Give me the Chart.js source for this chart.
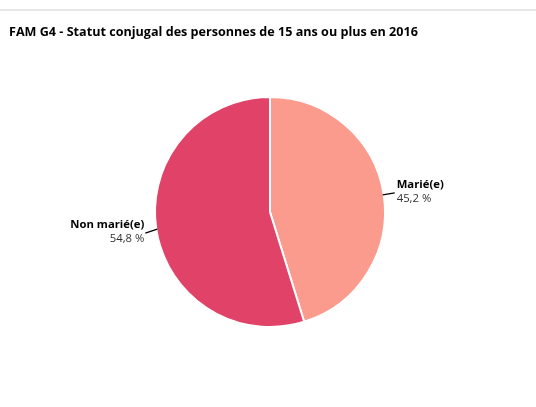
<!DOCTYPE html>
<html><head><meta charset="utf-8">
<script src="https://cdn.jsdelivr.net/npm/chart.js@4/dist/chart.umd.min.js"></script>
<style>
html,body{margin:0;padding:0;background:#fff;}
#wrap{position:relative;width:536px;height:407px;}
#line{position:absolute;left:0;top:9px;width:536px;height:2px;background:#e6e6e6;}
canvas{position:absolute;left:0;top:0;}
</style></head>
<body>
<div id="wrap"><div id="line"></div><canvas id="c" width="536" height="407"></canvas></div>
<script>
const titleText = "FAM G4 - Statut conjugal des personnes de 15 ans ou plus en 2016";
const categories = ["Marié(e)", "Non marié(e)"];
const values = [45.2, 54.8];
const valueLabels = ["45,2 %", "54,8 %"];
const colors = ["#fa9b8e", "#e04367"];

const labelPlugin = {
  id: 'labels',
  afterDraw(chart) {
    const ctx = chart.ctx;
    ctx.save();
    ctx.font = 'bold 12.6px "Open Sans"';
    ctx.fillStyle = '#000';
    ctx.textAlign = 'left';
    ctx.textBaseline = 'middle';
    ctx.fillText(titleText, 9, 32);
    const meta = chart.getDatasetMeta(0);
    meta.data.forEach((arc, i) => {
      const mid = (arc.startAngle + arc.endAngle) / 2;
      const r = arc.outerRadius;
      const cx = arc.x, cy = arc.y;
      const x1 = cx + Math.cos(mid) * (r - 1), y1 = cy + Math.sin(mid) * (r - 1);
      const right = Math.cos(mid) >= 0;
      const x2 = x1 + (right ? 12 : -12), y2 = y1 + (right ? -2 : 4);
      ctx.strokeStyle = '#000';
      ctx.lineWidth = 1.2;
      ctx.beginPath(); ctx.moveTo(x1, y1); ctx.lineTo(x2, y2); ctx.stroke();
      const tx = right ? x2 + 2 : x2 - 1;
      ctx.textAlign = right ? 'left' : 'right';
      ctx.fillStyle = '#000';
      ctx.font = 'bold 11.3px "Open Sans"';
      ctx.fillText(categories[i], tx, y2 - 8);
      ctx.fillStyle = '#333';
      ctx.font = '11.3px "Open Sans"';
      ctx.fillText(valueLabels[i], tx, y2 + 6);
    });
    ctx.restore();
  }
};

new Chart(document.getElementById('c'), {
  type: 'pie',
  data: { labels: categories, datasets: [{ data: values, backgroundColor: colors, borderColor: '#fff', borderWidth: 2 }] },
  options: {
    responsive: false, animation: false,
    layout: { padding: { left: 154, right: 150, top: 95, bottom: 78 } },
    plugins: { legend: { display: false }, tooltip: { enabled: false }, title: { display: false } }
  },
  plugins: [labelPlugin]
});
</script>
</body></html>
